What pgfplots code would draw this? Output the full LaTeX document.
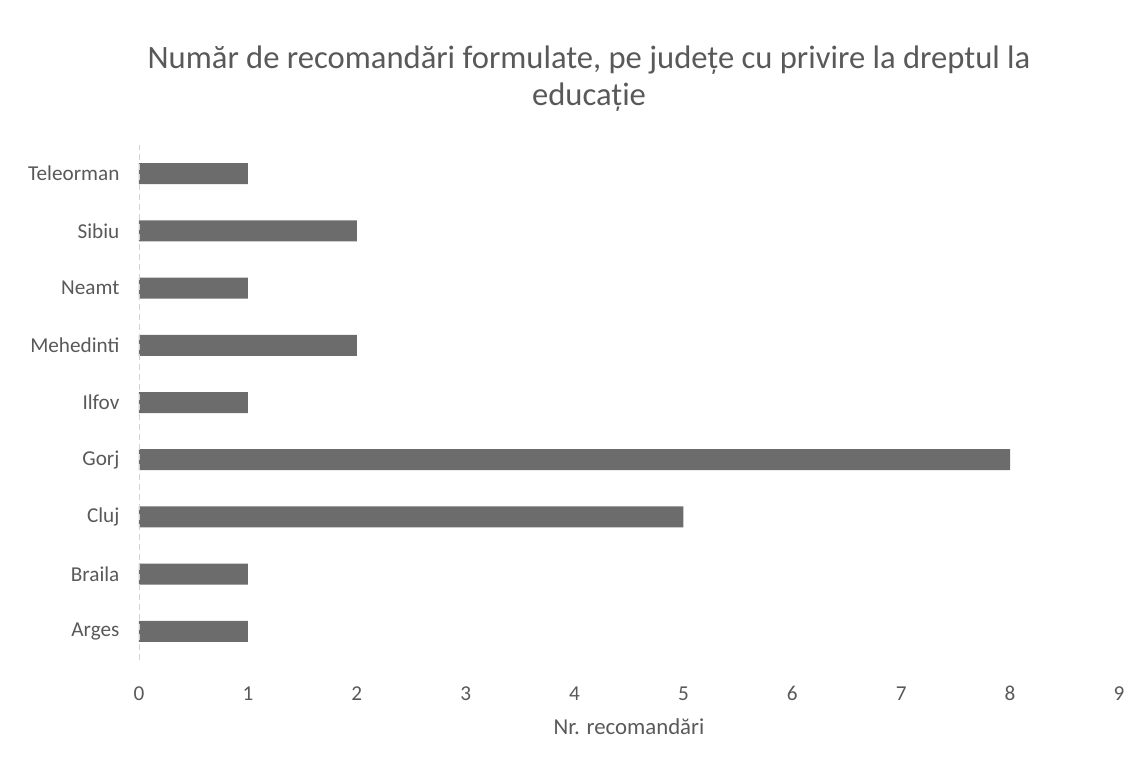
\documentclass[border=0pt]{standalone}
\usepackage{fontspec}
\setmainfont{Carlito}
\usepackage{pgfplots}
\pgfplotsset{compat=1.18}
\definecolor{txt}{RGB}{89,89,89}
\definecolor{barc}{RGB}{108,108,108}
\begin{document}
\begin{tikzpicture}[x=1pt,y=1pt]
\path[use as bounding box] (0,0) rectangle (571,380);
\begin{axis}[at={(69.5pt,50pt)}, anchor=south west, scale only axis,
  width=490pt, height=257.5pt,
  xbar, xmin=0, xmax=9, ymin=-0.5, ymax=8.5,
  ytick={0,...,8},
  yticklabels={Arges,Braila,Cluj,Gorj,Ilfov,Mehedinti,Neamt,Sibiu,Teleorman},
  xtick={0,...,9},
  axis line style={draw=none}, major tick style={draw=none},
  bar width=10.5pt,
  ticklabel style={font=\fontsize{10.6}{12}\selectfont, text=txt},
  /pgf/number format/assume math mode=true,
  xticklabel style={yshift=-9pt, text height=1.6ex, text depth=0.3ex},
  yticklabel style={xshift=-2pt},
  xlabel={Nr. recomandări},
  every axis x label/.style={at={(rel axis cs:0.5,0)}, yshift=-33.5pt, anchor=center,
     font=\fontsize{11.4}{13}\selectfont, text=txt},
]
\addplot[fill=barc, draw=none] coordinates {(1,0) (1,1) (5,2) (8,3) (1,4) (2,5) (1,6) (2,7) (1,8)};
\draw[gray!35, densely dashed] (axis cs:0,-0.5) -- (axis cs:0,8.5);
\end{axis}
\node[text=txt, font=\fontsize{16.3}{18.5}\selectfont, align=center] at (294.5,340.75)
  {Număr de recomandări formulate, pe județe cu privire la dreptul la\\ educație};
\end{tikzpicture}
\end{document}
